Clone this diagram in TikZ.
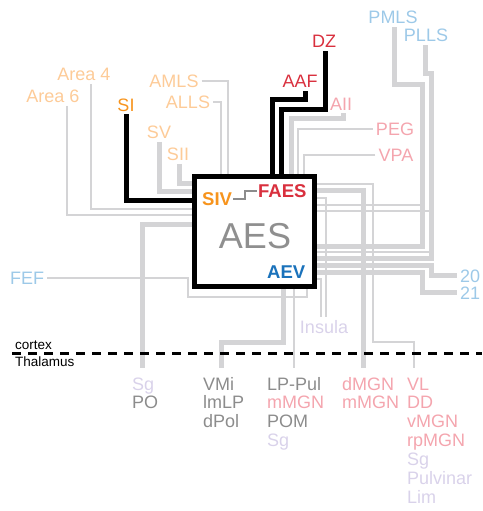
\documentclass[tikz,border=0pt]{standalone}
\usepackage{fontspec}
\setmainfont{Liberation Sans}
\usetikzlibrary{calc}

\definecolor{lgray}{HTML}{D4D4D6}
\definecolor{tgray}{HTML}{8C8C8C}
\definecolor{aesgray}{HTML}{8F8F8F}
\definecolor{peach}{HTML}{FDCB98}
\definecolor{orng}{HTML}{F7941D}
\definecolor{crim}{HTML}{D9303E}
\definecolor{cpink}{HTML}{F4A5AE}
\definecolor{sky}{HTML}{9DC9E8}
\definecolor{lav}{HTML}{D9D2EA}
\definecolor{aevblue}{HTML}{1A72BB}

\tikzset{
  lbl/.style={font=\fontsize{18}{21}\selectfont, inner sep=3pt, anchor=base},
  tlbl/.style={lbl, inner sep=0pt, anchor=base west},
  boldlbl/.style={font=\fontsize{18.5}{21}\selectfont\bfseries, inner sep=1pt, anchor=base west},
  gthick/.style={draw=lgray, line width=5pt},
  gthin/.style={draw=lgray, line width=2pt},
  bthick/.style={draw=black, line width=5pt},
  divider/.style={draw=black, line width=2.5pt, dash pattern=on 9pt off 7pt},
}

\begin{document}
\begin{tikzpicture}[x=1pt, y=-1pt]
  \useasboundingbox (0,0) rectangle (482,511);

  % cortical areas
  \node[lbl, text=sky] (PMLS) at (393,24) {PMLS};
  \node[lbl, text=sky] (PLLS) at (426,42) {PLLS};
  \node[lbl, text=crim] (DZ) at (324,48) {DZ};
  \node[lbl, text=crim] (AAF) at (300,88) {AAF};
  \node[lbl, text=cpink] (AII) at (341,110) {AII};
  \node[lbl, text=cpink] (PEG) at (395,135) {PEG};
  \node[lbl, text=cpink] (VPA) at (396,161) {VPA};
  \node[lbl, text=peach] (Area4) at (84,81) {Area 4};
  \node[lbl, text=peach] (Area6) at (53,102.5) {Area 6};
  \node[lbl, text=orng] (SI) at (126,111) {SI};
  \node[lbl, text=peach] (SV) at (159,138.5) {SV};
  \node[lbl, text=peach] (SII) at (178,160.5) {SII};
  \node[lbl, text=peach] (AMLS) at (174,87.5) {AMLS};
  \node[lbl, text=peach] (ALLS) at (188,108) {ALLS};
  \node[lbl, text=sky] (FEF) at (27,284) {FEF};
  \node[lbl, text=sky, anchor=base west] (N20) at (457,282) {20};
  \node[lbl, text=sky, anchor=base west] (N21) at (457,299) {21};
  \node[lbl, text=lav] (Insula) at (324,333) {Insula};

  % AES box
  \node[draw, line width=5pt, fill=white, minimum width=120pt, minimum height=110pt,
        inner sep=0pt, outer sep=2.5pt] (aes) at (254.5,231.5) {};

  % thalamic nuclei
  \foreach \txt/\col [count=\i] in {Sg/lav, PO/tgray}
    \node[tlbl, text=\col] (po-\i) at (132, {390+18.9*(\i-1)}) {\txt};
  \foreach \txt/\col [count=\i] in {VMi/tgray, lmLP/tgray, dPol/tgray}
    \node[tlbl, text=\col] (vmi-\i) at (203, {390+18.9*(\i-1)}) {\txt};
  \foreach \txt/\col [count=\i] in {LP-Pul/tgray, mMGN/cpink, POM/tgray, Sg/lav}
    \node[tlbl, text=\col] (lp-\i) at (267, {390+18.9*(\i-1)}) {\txt};
  \foreach \txt/\col [count=\i] in {dMGN/cpink, mMGN/cpink}
    \node[tlbl, text=\col] (dmgn-\i) at (342, {390+18.9*(\i-1)}) {\txt};
  \foreach \txt/\col [count=\i] in {VL/cpink, DD/cpink, vMGN/cpink, rpMGN/cpink, Sg/lav, Pulvinar/lav, Lim/lav}
    \node[tlbl, text=\col] (vl-\i) at (407, {390+18.9*(\i-1)}) {\txt};

  \coordinate (endPO) at (142,368);
  \coordinate (endVMi) at (221,368);
  \coordinate (endLP) at (294,368);
  \coordinate (endDMGN) at (363,368);
  \coordinate (endVL) at (414,368);

  % thin grey connections
  \draw[gthin] (Area4.south -| 91,0) |- (aes.west |- 0,209);
  \draw[gthin] (Area6.south -| 67,0) |- (aes.west |- 0,215);
  \draw[gthin] (AMLS.east) -| (aes.north -| 228,0);
  \draw[gthin] (ALLS.east) -| (aes.north -| 221,0);
  \draw[gthin] (PEG.west) -| (aes.north -| 298,0);
  \draw[gthin] (VPA.west) -| (aes.north -| 304,0);
  \draw[gthin] (FEF.east) -| (188,297) -| (aes.south -| 307,0);
  \draw[gthin] (aes.east |- 0,198) -| (Insula.north -| 326,0);
  \draw[gthin] (aes.east |- 0,279) -| (Insula.north -| 321,0);
  \draw[gthin] (aes.south -| 294,0) -- (endLP);
  \draw[gthin] (aes.east |- 0,184) -| (373,342) -| (endVL);
  \draw[gthin] (aes.east |- 0,205) -- (422,205);
  \draw[gthin] (aes.east |- 0,211) -- (431,211);
  \draw[gthin] (aes.east |- 0,252) -- (431,252);

  % thick grey connections
  \draw[gthick] (SV.south) |- (aes.west |- 0,191);
  \draw[gthick] (SII.south -| 179,0) |- (aes.west |- 0,183);
  \draw[gthick] (AII.south -| 343,0) |- (291,118) -- (aes.north -| 291,0);
  \draw[gthick] (PMLS.south -| 394,0) |- (422,84) -- (422,246) -- (aes.east |- 0,246);
  \draw[gthick] (PLLS.south -| 425,0) |- (431,73) -- (431,258) -- (aes.east |- 0,258);
  \draw[gthick] (aes.east |- 0,265) -| (N20.west -| 431,0) -- (N20.west);
  \draw[gthick] (aes.east |- 0,272) -| (N21.west -| 422,0) -- (N21.west);
  \draw[gthick] (aes.west |- 0,224) -| (endPO);
  \draw[gthick] (aes.south -| 283,0) |- (221,342) -- (endVMi);
  \draw[gthick] (aes.east |- 0,190) -| (endDMGN);

  % black connections
  \draw[bthick] (SI.south -| 126.5,0) |- (aes.west |- 0,200);
  \draw[bthick] (AAF.south -| 305.5,0) |- (272.5,99.5) -- (aes.north -| 272.5,0);
  \draw[bthick] (DZ.south -| 325.5,0) |- (281.5,109.5) -- (aes.north -| 281.5,0);

  % box contents
  \node[font=\fontsize{36}{40}\selectfont, text=aesgray, anchor=base] (aestxt) at (255,248) {AES};
  \node[boldlbl, text=orng] (SIV) at (201,205) {SIV};
  \node[boldlbl, text=crim] (FAES) at (257,197) {FAES};
  \node[boldlbl, text=aevblue] (AEV) at (266,278) {AEV};
  \draw[draw=tgray, line width=1.8pt] (SIV.east) -- (SIV.east -| 245,0) |- (FAES.west);

  % cortex / thalamus border
  \coordinate (divL) at (12,353.5);
  \coordinate (divR) at (482,353.5);
  \draw[divider] (divL) -- (divR);
  \node[font=\fontsize{13.5}{15}\selectfont, anchor=base west, inner sep=0pt] (cortex) at (15,349) {cortex};
  \node[font=\fontsize{13.5}{15}\selectfont, anchor=base west, inner sep=0pt] (thal) at (15,366.5) {Thalamus};
\end{tikzpicture}
\end{document}
